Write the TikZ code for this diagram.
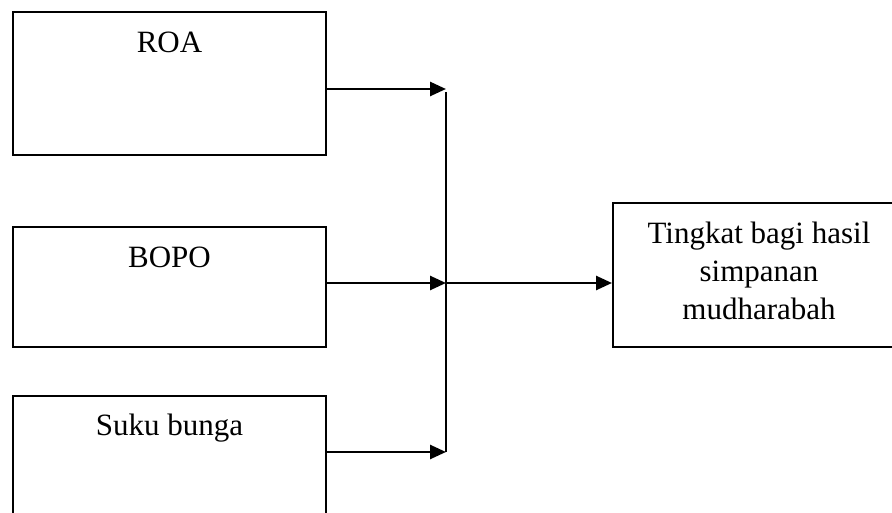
\documentclass[tikz,border=0pt]{standalone}
\usepackage{fontspec}
\setmainfont{Liberation Serif}
\usetikzlibrary{arrows.meta}
\begin{document}
\begin{tikzpicture}[x=1pt,y=1pt,
  box/.style={draw,line width=2pt,inner sep=0pt},
  lbl/.style={font=\fontsize{31}{38}\selectfont,inner sep=0pt,anchor=base},
  arr/.style={line width=2.6pt,-{Triangle[length=16pt,width=14pt]}},
  bus/.style={line width=2pt}]
\useasboundingbox (0,0) rectangle (892,512);
\clip (0,0) rectangle (892,512);
\fill[white] (0,0) rectangle (892,512);
% boxes
\node[box,minimum width=313pt,minimum height=143pt] (roa) at (169.5,428.5) {};
\node[box,minimum width=313pt,minimum height=120pt] (bopo) at (169.5,225) {};
\node[box,minimum width=313pt,minimum height=130pt] (suku) at (169.5,51) {};
\node[box,minimum width=292pt,minimum height=144pt] (out) at (759,237) {};
% labels
\node[lbl] (troa) at (169.5,459) {ROA};
\node[lbl] (tbopo) at (169.5,244) {BOPO};
\node[lbl] (tsuku) at (169.5,77) {Suku bunga};
\node[lbl,anchor=center,align=center] (tout) at (759,241) {Tingkat bagi hasil\\simpanan\\mudharabah};
% junction points
\coordinate (j1) at (446,423);
\coordinate (j2) at (446,229);
\coordinate (j3) at (446,60);
\coordinate (jtop) at (446,420);
% connectors
\draw[arr] (roa.east |- j1) -- (j1);
\draw[arr] (bopo.east |- j2) -- (j2);
\draw[arr] (suku.east |- j3) -- (j3);
\draw[bus] (jtop) -- (j3);
\draw[arr] (j2) -- (out.west |- j2);
\end{tikzpicture}
\end{document}
